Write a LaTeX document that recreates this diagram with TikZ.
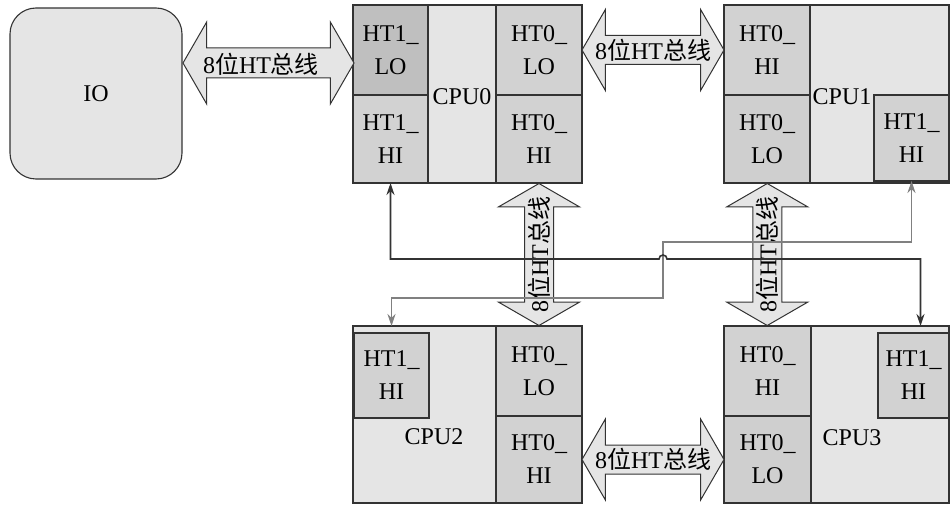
\documentclass[tikz,border=0pt]{standalone}
\usepackage{fontspec}
\setmainfont{Liberation Serif}
\newfontfamily\cjk{Noto Sans CJK SC}
\usetikzlibrary{calc, shapes.arrows, arrows.meta}

\begin{document}
\begin{tikzpicture}[x=1pt, y=-1pt, >={Stealth[length=12pt,width=8pt]},
  every node/.style={font=\fontsize{24}{33}\selectfont, inner sep=0pt, outer sep=0pt},
  cpubody/.style={draw=black!80, line width=1.1pt, fill=gray!20, anchor=north west},
  htcell/.style={draw=black!80, line width=1.1pt, fill=gray!35, align=center, anchor=north west},
  htbus/.style={double arrow, draw=black!80, line width=1pt, fill=gray!20, inner xsep=0pt,
    inner ysep=14pt, double arrow head extend=26pt, double arrow tip angle=120}]
  \useasboundingbox (0,0) rectangle (950,505);
  % IO
  \node[draw=black!80, line width=1.1pt, fill=gray!20, rounded corners=26pt, minimum width=172pt,
    minimum height=171pt, anchor=north west] (io) at (10,8) {IO};
  % CPU0
  \node[cpubody, minimum width=229pt, minimum height=178pt] (cpu0) at (353,5) {};
  \node[htcell, fill=gray!50, minimum width=75pt, minimum height=90pt] (c0lo1) at (353,5) {HT1\_\\LO};
  \node[htcell, minimum width=75pt, minimum height=88pt] (c0hi1) at (353,95) {HT1\_\\HI};
  \node[htcell, minimum width=86pt, minimum height=90pt] (c0lo0) at (496,5) {HT0\_\\LO};
  \node[htcell, minimum width=86pt, minimum height=88pt] (c0hi0) at (496,95) {HT0\_\\HI};
  \node (n0) at (462,97) {CPU0};
  % CPU1
  \node[cpubody, minimum width=225pt, minimum height=178pt] (cpu1) at (724,5) {};
  \node[htcell, minimum width=86pt, minimum height=90pt] (c1hi0) at (724,5) {HT0\_\\HI};
  \node[htcell, fill=gray!38, minimum width=86pt, minimum height=88pt] (c1lo0) at (724,95) {HT0\_\\LO};
  \node[htcell, minimum width=75pt, minimum height=86pt] (c1hi1) at (874,95) {HT1\_\\HI};
  \node (n1) at (842,97) {CPU1};
  % CPU2
  \node[cpubody, minimum width=229pt, minimum height=177pt] (cpu2) at (353,326) {};
  \node[htcell, minimum width=75pt, minimum height=85pt] (c2hi1) at (354,333) {HT1\_\\HI};
  \node[htcell, minimum width=86pt, minimum height=90pt] (c2lo0) at (496,326) {HT0\_\\LO};
  \node[htcell, minimum width=86pt, minimum height=87pt] (c2hi0) at (496,416) {HT0\_\\HI};
  \node (n2) at (434,437) {CPU2};
  % CPU3
  \node[cpubody, minimum width=225pt, minimum height=177pt] (cpu3) at (724,326) {};
  \node[htcell, minimum width=87pt, minimum height=90pt] (c3hi0) at (724,326) {HT0\_\\HI};
  \node[htcell, fill=gray!38, minimum width=87pt, minimum height=87pt] (c3lo0) at (724,416) {HT0\_\\LO};
  \node[htcell, minimum width=71pt, minimum height=85pt] (c3hi1) at (878,333) {HT1\_\\HI};
  \node (n3) at (852,438) {CPU3};
  % HT buses
  \node[htbus, minimum height=171pt, inner ysep=14.5pt] (busio) at (268.5,63) {};
  \node (tio) at (261,64) {8{\cjk 位}HT{\cjk 总线}};
  \node[htbus, minimum height=142pt] (bus01) at ($(c0lo0.east)!.5!(c1hi0.west)$) {};
  \node (t01) at (bus01) {8{\cjk 位}HT{\cjk 总线}};
  \node[htbus, minimum height=142pt] (bus23) at ($(c2hi0.east)!.5!(c3lo0.west)$) {};
  \node (t23) at (bus23) {8{\cjk 位}HT{\cjk 总线}};
  \node[htbus, rotate=90, minimum height=142pt] (bus02) at ($(c0hi0.south)!.5!(c2lo0.north)$) {};
  \node[rotate=90] (t02) at (bus02) {8{\cjk 位}HT{\cjk 总线}};
  \node[htbus, rotate=90, minimum height=142pt] (bus13) at ($(c1lo0.south)!.5!(c3hi0.north)$) {};
  \node[rotate=90] (t13) at (bus13) {8{\cjk 位}HT{\cjk 总线}};
  % HT1 links
  \coordinate (turn) at (663,242);
  \coordinate (turn2) at (663,298);
  \coordinate (hop) at (659,259);
  \draw[<->, gray, line width=1.4pt] (c1hi1.south) |- (turn) -- (turn2) -| (c2hi1.north |- cpu2.north);
  \draw[<->, black!80, line width=1.6pt] (c0hi1.south) |- (hop) arc[start angle=180, end angle=0, radius=4pt]
    -| ([xshift=7pt]c3hi1.north |- cpu3.north);
\end{tikzpicture}
\end{document}
